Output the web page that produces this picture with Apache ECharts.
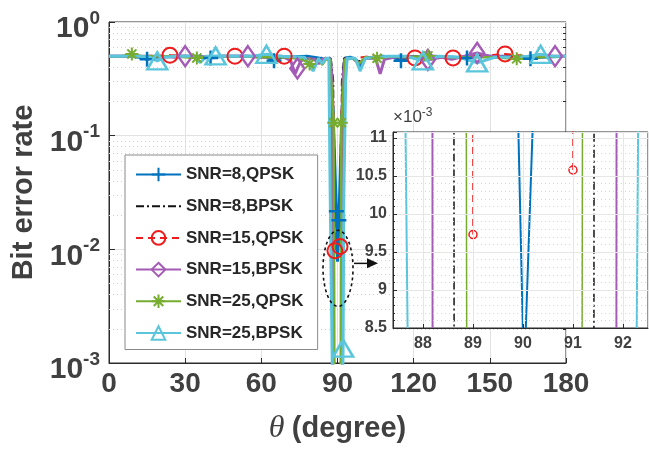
<!DOCTYPE html>
<html>
<head>
<meta charset="utf-8">
<script src="https://cdn.jsdelivr.net/npm/echarts@6/dist/echarts.min.js"></script>
<style>
  html, body { margin: 0; padding: 0; background: #fff; }
  #chart { width: 649px; height: 456px; }
</style>
</head>
<body>
<div id="chart"></div>
<script>
// Bit error rate versus angle theta, [theta (deg), BER] pairs for each configuration.
// A null BER means no bit errors were counted at that angle.
const seriesNames = ['SNR=8,QPSK', 'SNR=8,BPSK', 'SNR=15,QPSK', 'SNR=15,BPSK', 'SNR=25,QPSK', 'SNR=25,BPSK'];

const berSnr8Qpsk = [
  [0, 0.5], [8, 0.5], [12, 0.49], [15, 0.47], [18, 0.49], [26, 0.5], [35, 0.5], [40, 0.483],
  [45, 0.5], [55, 0.5], [62, 0.49], [65, 0.455], [68, 0.49], [78, 0.5], [83, 0.48], [85, 0.47],
  [87.2, 0.48], [88.3, 0.15], [89.55, 0.0216], [90.02, 0.0078], [90.55, 0.018], [91.7, 0.15],
  [92.8, 0.48], [95, 0.49], [97.5, 0.46], [99.2, 0.41], [101, 0.48], [108, 0.5], [112, 0.49],
  [115, 0.455], [118, 0.49], [128, 0.5], [136, 0.49], [141, 0.483], [146, 0.5], [155, 0.5],
  [162, 0.49], [166, 0.474], [170, 0.49], [180, 0.5]
];
const berSnr8Bpsk = [
  [0, 0.5], [10, 0.5], [14, 0.48], [17, 0.5], [30, 0.5], [38, 0.49], [50, 0.5], [64, 0.49],
  [75, 0.48], [80, 0.47], [82, 0.44], [84, 0.48], [87.4, 0.47], [88.33, 0.3], [88.63, 0.0001],
  [91.41, 0.0001], [91.71, 0.3], [92.6, 0.48], [96, 0.48], [99, 0.45], [102, 0.49], [116, 0.5],
  [130, 0.49], [150, 0.5], [165, 0.49], [180, 0.5]
];
const berSnr15Qpsk = [
  [0, 0.5], [12, 0.5], [24, 0.51], [32, 0.5], [40, 0.49], [49.6, 0.5], [58, 0.49], [69, 0.5],
  [76, 0.48], [81, 0.46], [84, 0.48], [87, 0.48], [88.2, 0.25], [88.95, 0.05], [89, 0.00973],
  [90, null], [91, 0.01058], [91.05, 0.05], [91.8, 0.25], [93, 0.48], [97, 0.48], [103, 0.5],
  [112, 0.49], [120.5, 0.483], [128, 0.5], [135.5, 0.483], [145, 0.5], [156, 0.524], [165, 0.5],
  [180, 0.5]
];
const berSnr15Bpsk = [
  [0, 0.5], [20, 0.5], [26, 0.49], [30, 0.5], [36, 0.49], [44, 0.5], [54.7, 0.5], [62, 0.49],
  [68, 0.5], [71.5, 0.46], [73.3, 0.35], [74.2, 0.39], [75.5, 0.45], [77, 0.48], [81, 0.47],
  [82.5, 0.43], [84, 0.47], [87.2, 0.47], [87.9, 0.3], [88.2, 0.0001], [91.86, 0.0001],
  [92.16, 0.3], [92.8, 0.47], [96, 0.48], [98.5, 0.43], [101, 0.48], [105, 0.48], [106.8, 0.35],
  [108.5, 0.47], [114, 0.5], [120, 0.49], [125.6, 0.465], [131, 0.49], [135, 0.47], [140, 0.5],
  [145, 0.535], [150, 0.5], [160, 0.49], [168, 0.5], [175.7, 0.5], [180, 0.5]
];
const berSnr25Qpsk = [
  [0, 0.5], [5, 0.5], [9, 0.524], [13, 0.5], [25, 0.5], [30, 0.49], [34.6, 0.483], [40, 0.5],
  [50, 0.5], [60, 0.49], [70, 0.49], [76, 0.47], [79, 0.428], [81, 0.4], [82.5, 0.47], [84, 0.42],
  [85.5, 0.47], [87, 0.47], [88.5, 0.13], [88.9, 0.0001], [91.16, 0.0001], [91.5, 0.13],
  [93, 0.47], [96, 0.48], [98.5, 0.43], [101, 0.49], [105.6, 0.48], [112, 0.5], [118, 0.49],
  [125.6, 0.503], [135, 0.49], [150, 0.49], [160.6, 0.474], [170, 0.49], [180, 0.5]
];
const berSnr25Bpsk = [
  [0, 0.5], [12, 0.5], [16, 0.49], [19, 0.455], [22, 0.49], [26, 0.5], [33, 0.5], [36, 0.44],
  [38.5, 0.5], [42, 0.503], [50, 0.5], [56, 0.5], [62, 0.52], [68, 0.5], [77, 0.49], [80.4, 0.37],
  [82.5, 0.48], [84, 0.43], [85.5, 0.48], [86.6, 0.48], [87, 0.052], [87.8, 0.0017], [88.5, 0.0001],
  [91.6, 0.0001], [92.2, 0.00135], [92.5, 0.03], [93.2, 0.3], [93.8, 0.48], [97, 0.48],
  [98.9, 0.37], [101, 0.48], [110, 0.5], [117, 0.5], [123.6, 0.455], [130, 0.5], [138, 0.49],
  [145, 0.437], [152, 0.49], [160, 0.49], [165, 0.5], [170, 0.52], [175, 0.5], [180, 0.5]
];

// Angles that carry a marker on each curve
const markSnr8Qpsk = [15, 40, 65, 89.55, 90.55, 115, 141, 166];
const markSnr8Bpsk = [];
const markSnr15Qpsk = [24, 49.6, 69, 89, 91, 120.5, 135.5, 156];
const markSnr15Bpsk = [30, 54.7, 74.2, 125.6, 145, 175.7];
const markSnr25Qpsk = [9, 34.6, 79, 88.5, 91.5, 105.6, 125.6, 160.6];
const markSnr25Bpsk = [19, 42, 62, 92.2, 123.6, 145, 170];

// Axis ticks
const thetaTicks = [0, 30, 60, 90, 120, 150, 180];
const berMin = 0.001, berMax = 1;
const berMinor = [];
for (let dec = 0.001; dec < 0.99; dec *= 10) {
  for (let k = 2; k <= 9; k++) berMinor.push(+(k * dec).toPrecision(3));
}
const zoomTheta = [87.4, 92.5];
const zoomBer = [8.5, 11.08];   // in units of 1e-3

const FONT = '"Liberation Sans", Arial, Helvetica, sans-serif';
const TEXT = '#404040';
const AXIS = '#2b2b2b';
const CLEAR = 'rgba(255,255,255,0)';

const PLUS = 'path://M0,-10L0,10M-10,0L10,0';
const STAR = 'path://M0,-10L0,10M-10,0L10,0M-7,-7L7,7M-7,7L7,-7';

const curves = [
  { data: berSnr8Qpsk, marks: markSnr8Qpsk, color: '#0072BD', dash: 'solid', width: 3, symbol: PLUS, size: [15, 15], border: 2.5, small: [9, 9] },
  { data: berSnr8Bpsk, marks: markSnr8Bpsk, color: '#111111', dash: [8, 3, 2, 3], width: 2, symbol: 'circle', size: 1, border: 0, small: 1, noMarker: true },
  { data: berSnr15Qpsk, marks: markSnr15Qpsk, color: '#EE1C1C', dash: [7, 5], width: 2, symbol: 'circle', size: 15, border: 2, small: 8 },
  { data: berSnr15Bpsk, marks: markSnr15Bpsk, color: '#A35BB5', dash: 'solid', width: 3, symbol: 'diamond', size: [14, 20], border: 2.5, small: [8, 11] },
  { data: berSnr25Qpsk, marks: markSnr25Qpsk, color: '#76AC30', dash: 'solid', width: 2.5, symbol: STAR, size: [13, 13], border: 2, small: [8, 8] },
  { data: berSnr25Bpsk, marks: markSnr25Bpsk, color: '#5BC6DB', dash: 'solid', width: 3, symbol: 'triangle', size: [20, 17], border: 2.5, small: [10, 9] }
];

function buildSeries(c, i, inset) {
  const scale = inset ? 1000 : 1;
  return {
    type: 'line',
    name: seriesNames[i],
    xAxisIndex: inset ? 1 : 0,
    yAxisIndex: inset ? 3 : 0,
    z: inset ? 11 : 3,
    data: c.data.map(([t, b]) => ({
      value: [t, b === null ? null : b * scale],
      symbol: c.marks.includes(t) ? c.symbol : 'none'
    })),
    symbol: c.symbol,
    symbolSize: inset ? c.small : c.size,
    showSymbol: true,
    showAllSymbol: true,
    connectNulls: false,
    clip: true,
    lineStyle: { color: c.color, width: inset ? Math.max(1.5, c.width - 1) : c.width, type: c.dash },
    itemStyle: {
      color: CLEAR,
      borderColor: c.noMarker ? CLEAR : c.color,
      borderWidth: inset ? (c.noMarker ? 0 : 1.5) : c.border,
      borderType: 'solid'
    },
    emphasis: { disabled: true },
    animation: false
  };
}

const series = curves.map((c, i) => buildSeries(c, i, false))
  .concat(curves.map((c, i) => buildSeries(c, i, true)));

const chart = echarts.init(document.getElementById('chart'), null, { renderer: 'canvas' });

chart.setOption({
  animation: false,
  backgroundColor: '#fff',
  grid: [
    { left: 109, top: 21, width: 457, height: 342, show: true, borderColor: AXIS, borderWidth: 1, backgroundColor: 'transparent', z: 0 },
    { left: 393, top: 132, width: 255, height: 196, show: true, borderColor: AXIS, borderWidth: 1, backgroundColor: '#fff', z: 10 }
  ],
  legend: {
    data: seriesNames,
    orient: 'vertical',
    left: 125,
    top: 155,
    padding: [11, 14, 8, 10],
    itemWidth: 45,
    itemHeight: 17,
    itemGap: 14.7,
    backgroundColor: '#fff',
    borderColor: '#8a8a8a',
    borderWidth: 1,
    selectedMode: false,
    z: 8,
    textStyle: { fontFamily: FONT, fontWeight: 'bold', fontSize: 17, color: '#262626' }
  },
  xAxis: [
    {
      gridIndex: 0, type: 'value', min: thetaTicks[0], max: thetaTicks[thetaTicks.length - 1],
      interval: thetaTicks[1] - thetaTicks[0],
      axisLine: { lineStyle: { color: AXIS, width: 1 } },
      axisTick: { inside: true, length: 5, lineStyle: { color: AXIS } },
      axisLabel: { margin: 7, fontFamily: FONT, fontWeight: 'bold', fontSize: 28, color: TEXT },
      splitLine: { show: true, lineStyle: { color: '#e2e2e2', width: 1 } },
      name: '{t|θ} {n|(degree)}',
      nameLocation: 'middle',
      nameGap: 50,
      nameTextStyle: {
        rich: {
          t: { fontFamily: '"Liberation Serif", "DejaVu Serif", serif', fontStyle: 'italic', fontSize: 32, color: TEXT, padding: [0, 4, 0, 0] },
          n: { fontFamily: FONT, fontWeight: 'bold', fontSize: 29, color: TEXT }
        }
      }
    },
    {
      gridIndex: 1, type: 'value', min: zoomTheta[0], max: zoomTheta[1], splitNumber: 5, z: 12,
      axisLine: { lineStyle: { color: AXIS, width: 1 } },
      axisTick: { inside: true, length: 4, lineStyle: { color: AXIS } },
      axisLabel: { showMinLabel: false, showMaxLabel: false, margin: 8, fontFamily: FONT, fontWeight: 'bold', fontSize: 16, color: TEXT },
      splitLine: { show: true, lineStyle: { color: '#e6e6e6', width: 1 } }
    }
  ],
  yAxis: [
    {
      gridIndex: 0, type: 'log', logBase: 10, min: berMin, max: berMax,
      axisLine: { lineStyle: { color: AXIS, width: 1 } },
      axisTick: { inside: true, length: 6, lineStyle: { color: AXIS } },
      splitLine: { show: true, lineStyle: { color: '#e2e2e2', width: 1 } },
      axisLabel: {
        margin: 9,
        formatter: v => '{b|10}{s|' + Math.round(Math.log10(v)) + '}',
        rich: {
          b: { fontFamily: FONT, fontWeight: 'bold', fontSize: 30, lineHeight: 30, color: TEXT, padding: [14, 0, 0, 0] },
          s: { fontFamily: FONT, fontWeight: 'bold', fontSize: 19, lineHeight: 19, color: TEXT, padding: [9, 0, 16, 0] }
        }
      },
      name: 'Bit error rate',
      nameLocation: 'middle',
      nameGap: 64,
      nameTextStyle: { fontFamily: FONT, fontWeight: 'bold', fontSize: 29, color: TEXT }
    },
    {
      // minor decade grid (2..9 within each decade)
      gridIndex: 0, type: 'log', logBase: 10, min: berMin, max: berMax,
      axisLine: { show: false },
      axisLabel: { show: false },
      splitLine: { show: false },
      axisTick: { show: true, inside: true, length: 457, customValues: berMinor, lineStyle: { color: '#cfcfcf', width: 1, type: [1, 3] } }
    },
    {
      // short minor tick marks on the left edge
      gridIndex: 0, type: 'log', logBase: 10, min: berMin, max: berMax,
      axisLine: { show: false },
      axisLabel: { show: false },
      splitLine: { show: false },
      axisTick: { show: true, inside: true, length: 3, customValues: berMinor, lineStyle: { color: AXIS, width: 1 } }
    },
    {
      gridIndex: 1, type: 'value', min: zoomBer[0], max: zoomBer[1], interval: 0.5, z: 12,
      axisLine: { lineStyle: { color: AXIS, width: 1 } },
      axisTick: { inside: true, length: 4, lineStyle: { color: AXIS } },
      minorTick: { show: true, splitNumber: 5, length: 2, lineStyle: { color: AXIS } },
      minorSplitLine: { show: true, lineStyle: { color: '#d6d6d6', width: 1, type: [1, 3] } },
      splitLine: { show: true, lineStyle: { color: '#e6e6e6', width: 1 } },
      axisLabel: { showMaxLabel: false, margin: 6, fontFamily: FONT, fontWeight: 'bold', fontSize: 16, color: TEXT },
      name: '×10{s|-3}',
      nameLocation: 'end',
      nameGap: 5,
      nameTextStyle: {
        align: 'left', verticalAlign: 'bottom', fontFamily: FONT, fontSize: 17, color: TEXT,
        rich: { s: { fontFamily: FONT, fontSize: 12, color: TEXT, verticalAlign: 'top', padding: [0, 0, 8, 0] } }
      }
    }
  ],
  series: series
});

// Dashed ellipse around the zoomed region and the arrow pointing to the inset
const centre = chart.convertToPixel({ xAxisIndex: 0, yAxisIndex: 0 }, [90.2, 0.0068]);
const insetLeft = chart.convertToPixel({ xAxisIndex: 1, yAxisIndex: 3 }, [zoomTheta[0], zoomBer[0]])[0];
const rx = 15, ry = 38;
const arrowY = centre[1] - 5;
const tipX = insetLeft - 15;
chart.setOption({
  graphic: [
    { type: 'ellipse', z: 20, silent: true, shape: { cx: centre[0], cy: centre[1], rx: rx, ry: ry },
      style: { fill: 'none', stroke: '#111', lineWidth: 1.6, lineDash: [3, 3] } },
    { type: 'line', z: 20, silent: true, shape: { x1: centre[0] + rx + 1, y1: arrowY, x2: tipX - 8, y2: arrowY },
      style: { stroke: '#111', lineWidth: 1.5 } },
    { type: 'polygon', z: 20, silent: true, shape: { points: [[tipX, arrowY], [tipX - 11, arrowY - 5], [tipX - 11, arrowY + 5]] },
      style: { fill: '#111' } }
  ]
});
</script>
</body>
</html>
